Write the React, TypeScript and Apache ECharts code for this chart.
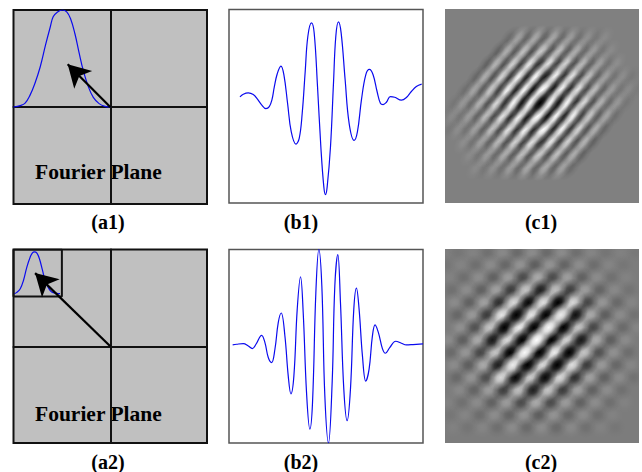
import React, { useEffect, useRef } from "react";
import * as echarts from "echarts";

// Gaussian pass-bands in the Fourier planes (x, y in plane units, cross at 0,0)
const a1GaussX = [-1, -0.93, -0.88, -0.83, -0.78, -0.725, -0.67, -0.62, -0.59, -0.545, -0.495, -0.45, -0.41, -0.365, -0.32, -0.28, -0.225, -0.175, -0.115, -0.055, 0];
const a1GaussY = [0, 0.014, 0.04, 0.12, 0.24, 0.41, 0.635, 0.825, 0.93, 0.98, 1, 0.98, 0.91, 0.755, 0.55, 0.38, 0.205, 0.1, 0.035, 0.007, 0];
const a2GaussX = [-0.993, -0.966, -0.93, -0.897, -0.862, -0.828, -0.804, -0.784, -0.76, -0.732, -0.7, -0.674, -0.64, -0.605, -0.553, -0.519];
const a2GaussY = [0.543, 0.557, 0.595, 0.68, 0.818, 0.92, 0.966, 0.976, 0.966, 0.904, 0.784, 0.68, 0.605, 0.56, 0.546, 0.543];
const a1Arrow = [-0.44, 0.44];
const a2Arrow = [-0.777, 0.756];
const a2BoxX = [-1, -0.5, -0.5, -1, -1];
const a2BoxY = [1, 1, 0.515, 0.515, 1];

// Wavelets (b1, b2)
const b1X = [60, 70, 85, 100, 112, 125, 138, 148, 156, 163, 172, 183, 192, 203, 214, 228, 238, 247, 256, 264, 275, 283, 293, 303, 312, 317, 322, 332, 341, 348, 356, 364, 376, 388, 403, 413, 425, 438, 449, 460, 472, 482, 490, 500, 512, 525, 545, 560, 575, 590, 606];
const b1Y = [291, 283, 279, 284, 297, 315, 326, 320, 300, 262, 222, 199, 225, 310, 395, 432, 415, 340, 215, 110, 70, 100, 260, 440, 560, 583, 560, 440, 250, 110, 67, 100, 240, 370, 421, 395, 300, 225, 209, 225, 275, 310, 314, 307, 290, 292, 301, 293, 275, 260, 253];
const b2X = [38, 50, 70, 85, 97, 108, 125, 135, 145, 155, 165, 175, 184, 195, 205, 213, 222, 232, 242, 250, 260, 270, 278, 288, 297, 306, 315, 326, 337, 345, 354, 362, 372, 382, 392, 402, 410, 418, 428, 438, 448, 458, 466, 476, 488, 497, 510, 528, 545, 560, 580, 610];
const b2Y = [327, 325, 323, 330, 338, 325, 298, 320, 365, 380, 340, 260, 231, 300, 420, 474, 420, 220, 122, 230, 470, 580, 500, 170, 40, 150, 480, 622, 440, 150, 55, 200, 460, 555, 460, 220, 156, 220, 360, 436, 400, 300, 267, 290, 338, 352, 335, 316, 322, 327, 326, 324];

// Image tones, -100 black to +100 white, per row along the stripe lattice
const c1Tones = [
  [-16, 20, -23, 24, -24, 23, -20, 17, -14, 10, -8, 6, 0, 0, 0, 0, 0, 0, 0, 0, 0],
  [-23, 27, -32, 37, -39, 40, -38, 36, -31, 26, -20, 16, -10, 6, 0, 0, 0, 0, 0, 0, 0],
  [-24, 31, -39, 47, -53, 58, -59, 58, -54, 48, -41, 33, -26, 19, -12, 8, 0, 0, 0, 0, 0],
  [-20, 28, -39, 49, -59, 67, -73, 75, -75, 72, -66, 58, -47, 37, -28, 19, -12, 8, -6, 0, 0],
  [-14, 22, -31, 42, -54, 66, -75, 84, -89, 90, -87, 78, -70, 59, -47, 36, -26, 17, -10, 6, -4],
  [-8, 14, -20, 30, -41, 53, -66, 76, -87, 96, -100, 96, -87, 76, -66, 53, -41, 30, -20, 14, -8],
  [-4, 6, -10, 17, -26, 36, -47, 59, -70, 78, -87, 90, -89, 84, -75, 66, -54, 42, -31, 22, -14],
  [0, 0, -6, 8, -12, 19, -28, 37, -47, 58, -66, 72, -75, 75, -73, 67, -59, 49, -39, 28, -20],
  [0, 0, 0, 0, 0, 8, -12, 19, -26, 33, -41, 48, -54, 58, -59, 58, -53, 47, -39, 31, -24],
  [0, 0, 0, 0, 0, 0, 0, 6, -10, 16, -20, 26, -31, 36, -38, 40, -39, 37, -32, 27, -23],
  [0, 0, 0, 0, 0, 0, 0, 0, 0, 6, -8, 10, -14, 17, -20, 23, -24, 24, -23, 20, -16],
];
const c1RowIndex = [5, 4, 3, 2, 1, 0, -1, -2, -3, -4, -5];
const c1FirstColumn = [-10, -10, -10, -10, -10, -10, -10, -10, -10, -10, -10];

const c2RowIndex = [7, 6, 5, 4, 3, 2, 1, 0, -1, -2, -3, -4, -5, -6, -7];
const c2FirstColumn = [-12, -11, -10, -9, -8, -7, -6, -6, -5, -4, -3, -2, -2, -1, 0];
const c2Tones = [
  [3, -4, 5, -8, 10, -12, 12, -12, 12, -9, 7, -5, 4, -3],
  [-4, 6, -9, 12, -14, 18, -20, 18, -16, 13, -10, 7, -4],
  [5, -9, 13, -18, 24, -32, 35, -32, 26, -18, 12, -8, 5],
  [-8, 13, -18, 28, -42, 55, -60, 50, -40, 25, -16, 10, -6],
  [12, -18, 28, -50, 70, -75, 75, -85, 70, -35, 20, -13, 7],
  [-14, 22, -42, 80, -90, 80, -80, 85, -70, 35, -20, 12, -7],
  [16, -28, 55, -85, 85, -90, 95, -80, 55, -35, 20, -12, 7],
  [12, -20, 35, -65, 70, -85, 100, -85, 65, -65, 35, -20, 12],
  [-12, 20, -35, 55, -80, 95, -90, 85, -85, 55, -28, 16, -10],
  [12, -20, 35, -60, 85, -85, 70, -85, 75, -42, 22, -14, 8],
  [-13, 18, -30, 70, -75, 60, -75, 70, -50, 28, -18, 12, -7],
  [10, -16, 25, -40, 50, -60, 55, -42, 28, -18, 13, -8],
  [5, -8, 12, -18, 24, -32, 35, -32, 24, -18, 13, -9, 5],
  [-4, 7, -10, 13, -16, 18, -20, 18, -14, 12, -9, 5],
  [4, -5, 7, -9, 12, -12, 12, -12, 10, -8, 5, -4],
];

const panelLabels = ["(a1)", "(b1)", "(c1)", "(a2)", "(b2)", "(c2)"];
const planeLabel = "Fourier Plane";

const BLUE = "#0a0aee";
const SERIF = '"Liberation Serif", "Times New Roman", serif';

const zip = (xs: number[], ys: number[]) => xs.map((x, i) => [x, ys[i]]);

function lattice(
  tones: number[][], rows: number[], first: number[],
  cx: number, cy: number, stepX: number, stepY: number, halfX: number,
) {
  const out: number[][] = [];
  tones.forEach((row, r) => {
    row.forEach((tone, c) => {
      if (tone === 0) return;
      const k = first[r] + c;
      const t = rows[r];
      out.push([cx + t * stepX + k * halfX, cy - t * stepY, tone]);
    });
  });
  // weak blobs first, so that strong ones sit on top
  return out.sort((a, b) => Math.abs(a[2]) - Math.abs(b[2]));
}

function blobRenderer(rx: number, ry: number, rotation: number, gainDark: number, gainBright: number) {
  return (_: any, api: any) => {
    const p = api.coord([api.value(0), api.value(1)]);
    const tone = api.value(2) as number;
    const strength = Math.abs(tone) / 100;
    const a = Math.min(1, strength * (tone > 0 ? gainBright : gainDark));
    const c = tone > 0 ? "255,255,255" : "0,0,0";
    return {
      type: "circle",
      x: p[0], y: p[1], rotation, scaleX: rx * (1 + 0.55 * strength), scaleY: ry,
      shape: { cx: 0, cy: 0, r: 1 },
      style: {
        fill: {
          type: "radial", x: 0.5, y: 0.5, r: 0.5,
          colorStops: [
            { offset: 0, color: `rgba(${c},${a})` },
            { offset: 0.3, color: `rgba(${c},${a * 0.78})` },
            { offset: 0.6, color: `rgba(${c},${a * 0.32})` },
            { offset: 1, color: `rgba(${c},0)` },
          ],
        },
      },
    };
  };
}

function planeSeries(idx: number, gauss: number[][], arrow: number[]) {
  return {
    type: "line", xAxisIndex: idx, yAxisIndex: idx, data: gauss, smooth: 0.4, showSymbol: false,
    lineStyle: { color: BLUE, width: 1.2 }, silent: true,
    markLine: {
      silent: true, animation: false, symbol: ["none", "arrow"], symbolSize: [19, 22],
      label: { show: false }, lineStyle: { color: "#000", width: 2.2, type: "solid" },
      data: [[{ coord: [0, 0] }, { coord: arrow }]],
    },
  };
}

export default function App() {
  const ref = useRef<HTMLDivElement>(null);
  useEffect(() => {
    const chart = echarts.init(ref.current!, undefined, { renderer: "svg" });
    const grids = [
      { left: 13.5, top: 10, width: 193.5, height: 194, show: true, backgroundColor: "#c0c0c0", borderColor: "#111", borderWidth: 2 },
      { left: 13.5, top: 249.5, width: 193.5, height: 193.5, show: true, backgroundColor: "#c0c0c0", borderColor: "#111", borderWidth: 2 },
      { left: 229, top: 9.5, width: 194, height: 193.5, show: true, backgroundColor: "#fff", borderColor: "#555", borderWidth: 1.5 },
      { left: 229, top: 249.5, width: 194, height: 193.5, show: true, backgroundColor: "#fff", borderColor: "#555", borderWidth: 1.5 },
      { left: 445, top: 9, width: 194, height: 194, show: true, backgroundColor: "#808080", borderWidth: 0 },
      { left: 445, top: 249, width: 194, height: 194, show: true, backgroundColor: "#7c7c7c", borderWidth: 0 },
    ];
    const hidden = { axisLabel: { show: false }, axisTick: { show: false }, splitLine: { show: false }, axisLine: { show: false } };
    const cross = { axisLabel: { show: false }, axisTick: { show: false }, splitLine: { show: false }, axisLine: { show: true, onZero: true, lineStyle: { color: "#111", width: 2 } } };
    const xAxis = [
      { type: "value", gridIndex: 0, min: -1, max: 1, ...cross },
      { type: "value", gridIndex: 1, min: -1, max: 1, ...cross },
      { type: "value", gridIndex: 2, min: 27, max: 610, ...hidden },
      { type: "value", gridIndex: 3, min: 27, max: 610, ...hidden },
      { type: "value", gridIndex: 4, min: 0, max: 194, ...hidden },
      { type: "value", gridIndex: 5, min: 0, max: 194, ...hidden },
    ];
    const yAxis = [
      { type: "value", gridIndex: 0, min: -1, max: 1, ...cross },
      { type: "value", gridIndex: 1, min: -1, max: 1, ...cross },
      { type: "value", gridIndex: 2, min: 30, max: 608, inverse: true, ...hidden },
      { type: "value", gridIndex: 3, min: 40, max: 622, inverse: true, ...hidden },
      { type: "value", gridIndex: 4, min: 0, max: 194, inverse: true, ...hidden },
      { type: "value", gridIndex: 5, min: 0, max: 194, inverse: true, ...hidden },
    ];
    const labelText = (text: string, x: number, y: number) => ({
      type: "text", x, y,
      style: { text, fill: "#000", font: `bold 20px ${SERIF}`, align: "center", verticalAlign: "middle" },
    });
    const planeText = (y: number) => ({
      type: "text", x: 35, y,
      style: { text: planeLabel, fill: "#000", font: `bold 21.5px ${SERIF}`, align: "left", verticalAlign: "middle" },
    });
    chart.setOption({
      animation: false,
      grid: grids, xAxis, yAxis,
      series: [
        planeSeries(0, zip(a1GaussX, a1GaussY), a1Arrow),
        planeSeries(1, zip(a2GaussX, a2GaussY), a2Arrow),
        { type: "line", xAxisIndex: 1, yAxisIndex: 1, data: zip(a2BoxX, a2BoxY), showSymbol: false, lineStyle: { color: "#111", width: 2 }, silent: true },
        { type: "line", xAxisIndex: 2, yAxisIndex: 2, data: zip(b1X, b1Y), smooth: 0.4, showSymbol: false, lineStyle: { color: BLUE, width: 1.2 }, silent: true },
        { type: "line", xAxisIndex: 3, yAxisIndex: 3, data: zip(b2X, b2Y), smooth: 0.4, showSymbol: false, lineStyle: { color: BLUE, width: 1.2 }, silent: true },
        {
          type: "custom", xAxisIndex: 4, yAxisIndex: 4, clip: true, silent: true,
          data: lattice(c1Tones, c1RowIndex, c1FirstColumn, 95, 94, 11, 13, 8.5),
          encode: { x: 0, y: 1 }, renderItem: blobRenderer(14, 8, 0.87, 1.05, 1.45),
        },
        {
          type: "custom", xAxisIndex: 5, yAxisIndex: 5, clip: true, silent: true,
          data: lattice(c2Tones, c2RowIndex, c2FirstColumn, 91.7, 91, 12, 12.5, 14.8),
          encode: { x: 0, y: 1 }, renderItem: blobRenderer(10.5, 10.5, 0.8, 1.25, 1.0),
        },
      ],
      graphic: [
        planeText(172), planeText(414),
        labelText(panelLabels[0], 108, 222), labelText(panelLabels[1], 301, 222), labelText(panelLabels[2], 541, 222),
        labelText(panelLabels[3], 108, 462), labelText(panelLabels[4], 301, 462), labelText(panelLabels[5], 541, 462),
      ],
    });
    return () => chart.dispose();
  }, []);
  return <div ref={ref} style={{ position: "absolute", left: 0, top: 0, width: 642, height: 472, background: "#fff" }} />;
}
